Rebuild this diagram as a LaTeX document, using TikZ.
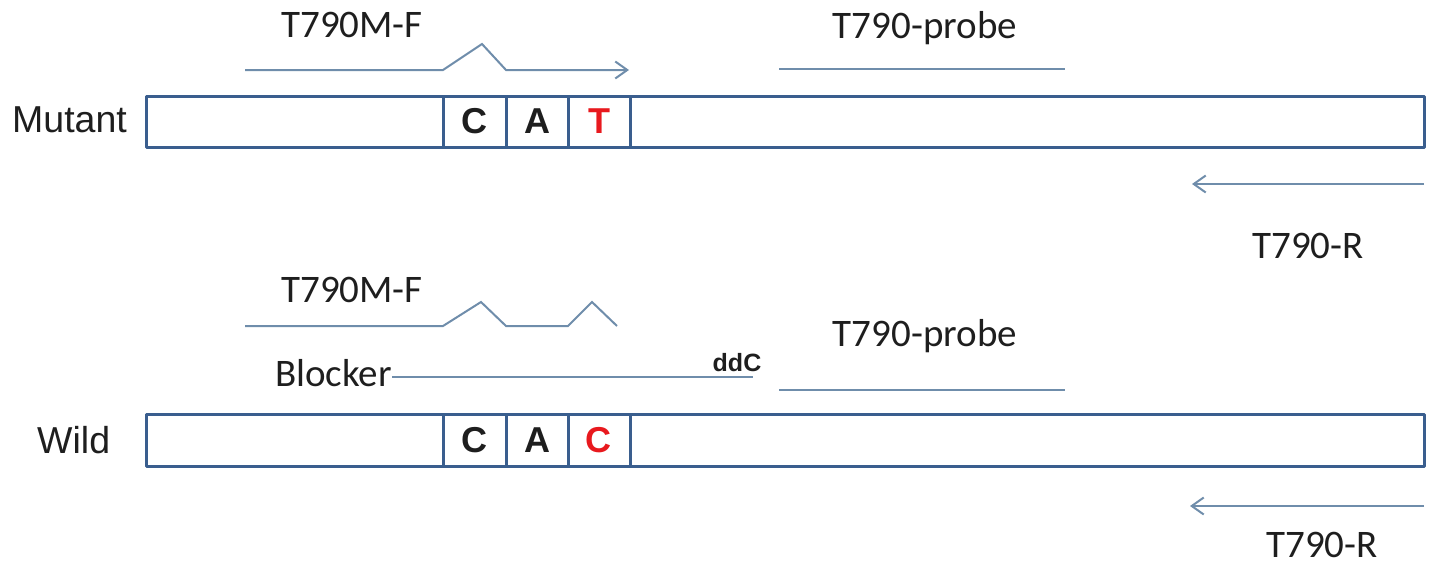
\documentclass[tikz,border=0pt]{standalone}
\usepackage{fontspec}
\setmainfont{Carlito}
\newfontfamily\arialf{Liberation Sans}
\usetikzlibrary{arrows.meta}
\definecolor{barblue}{HTML}{3A5E8E}
\definecolor{primerblue}{HTML}{6F8DAB}
\definecolor{basered}{HTML}{E8191E}
\definecolor{txt}{HTML}{1E1E1E}
\tikzset{
  lbl/.style={inner sep=0pt, anchor=base, text=txt, font=\fontsize{39}{46}\selectfont},
  sidelbl/.style={inner sep=0pt, anchor=base west, text=txt, font=\arialf\fontsize{37.5}{44}\selectfont},
  basech/.style={inner sep=0pt, anchor=base, text=txt, font=\arialf\bfseries\fontsize{36}{42}\selectfont},
  barbox/.style={draw=barblue, line width=3pt, line join=round},
  divider/.style={draw=barblue, line width=3pt},
  primer/.style={draw=primerblue, line width=2pt, line join=miter},
  barb/.style={-{Straight Barb[length=12pt,width=17pt,line width=2pt]}}
}
\begin{document}
\begin{tikzpicture}[x=1pt,y=-1pt]
\useasboundingbox (0,0) rectangle (1441,570);
% ---------------- Mutant ----------------
\node[sidelbl] (mut) at (12,132) {Mutant};
\draw[barbox] (146,96) rectangle (1424,147);
\coordinate (mbar) at (146,96);
\foreach \x in {443,506,568,630} \draw[divider] (\x,96) -- (\x,147);
\node[basech] (mC) at (474,133) {C};
\node[basech] (mA) at (537,133) {A};
\node[basech, text=basered] (mT) at (599,133) {T};
% forward primer
\node[lbl] (mFlbl) at (352,37) {T790M-F};
\coordinate (mF0) at (245,70);
\coordinate (mF1) at (443,70);
\coordinate (mF2) at (482,44);
\coordinate (mF3) at (506,70);
\coordinate (mF4) at (629,70);
\draw[primer, barb] (mF0) -- (mF1) -- (mF2) -- (mF3) -- (mF4);
% probe
\node[lbl] (mPlbl) at (925,38) {T790-probe};
\coordinate (mP0) at (779,69);
\coordinate (mP1) at (1065,69);
\draw[primer] (mP0) -- (mP1);
% reverse primer
\coordinate (mR0) at (1424,184);
\coordinate (mR1) at (1192,184);
\draw[primer, barb] (mR0) -- (mR1);
\node[lbl] (mRlbl) at (1308,258) {T790-R};
% ---------------- Wild ----------------
\node[sidelbl] (wild) at (37,453) {Wild};
\draw[barbox] (146,414) rectangle (1424,466);
\foreach \x in {443,506,568,630} \draw[divider] (\x,414) -- (\x,466);
\node[basech] (wC) at (474,452) {C};
\node[basech] (wA) at (537,452) {A};
\node[basech, text=basered] (wC2) at (598,452) {C};
% forward primer (mismatched)
\node[lbl] (wFlbl) at (352,302) {T790M-F};
\coordinate (wF0) at (245,326);
\coordinate (wF1) at (443,326);
\coordinate (wF2) at (481,302);
\coordinate (wF3) at (506,326);
\coordinate (wF4) at (568,326);
\coordinate (wF5) at (592,302);
\coordinate (wF6) at (617,326);
\draw[primer] (wF0) -- (wF1) -- (wF2) -- (wF3) -- (wF4) -- (wF5) -- (wF6);
% blocker
\node[lbl, anchor=base west] (blk) at (275,386) {Blocker};
\node[inner sep=0pt, anchor=base, text=txt, font=\arialf\bfseries\fontsize{25}{30}\selectfont] (ddc) at (737,371) {ddC};
\coordinate (blkEnd) at (753,377);
\draw[primer] (blk.east |- blkEnd) -- (blkEnd);
% probe
\node[lbl] (wPlbl) at (925,346) {T790-probe};
\coordinate (wP0) at (779,390);
\coordinate (wP1) at (1065,390);
\draw[primer] (wP0) -- (wP1);
% reverse primer
\coordinate (wR0) at (1424,506);
\coordinate (wR1) at (1190,506);
\draw[primer, barb] (wR0) -- (wR1);
\node[lbl] (wRlbl) at (1322,557) {T790-R};
\end{tikzpicture}
\end{document}
